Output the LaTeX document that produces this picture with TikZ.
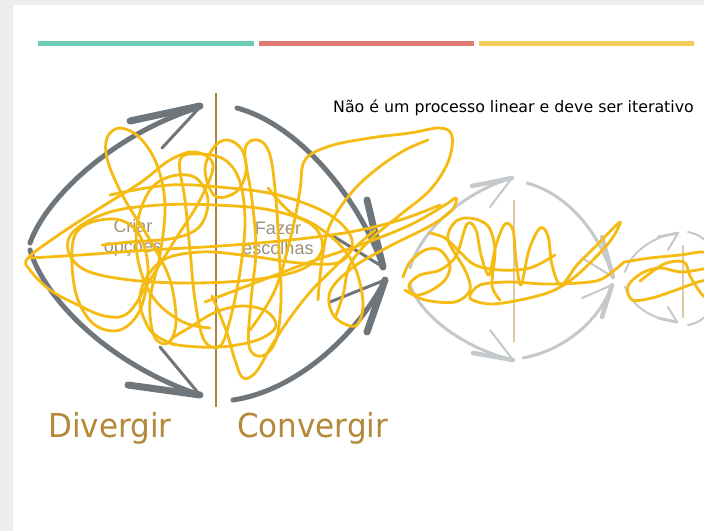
\documentclass[tikz,border=0pt]{standalone}
\usepackage{fontspec}
\setmainfont{DejaVu Sans}
\newfontfamily\dvfont[FakeStretch=0.94]{DejaVu Sans}
\newfontfamily\arialfont{Liberation Sans}
\definecolor{bggray}{HTML}{EEEEEE}
\definecolor{teal}{HTML}{6CCBB5}
\definecolor{salmon}{HTML}{DF7B6F}
\definecolor{mustard}{HTML}{F2CD5E}
\definecolor{darkarrow}{HTML}{6E767C}
\definecolor{lightarrow}{HTML}{C6C9CC}
\definecolor{brownline}{HTML}{A9853F}
\definecolor{tanline}{HTML}{DCCAA6}
\definecolor{goldtext}{HTML}{B38838}
\definecolor{fadetext}{HTML}{9E917A}
\definecolor{scribble}{HTML}{F5BB12}
\tikzset{
  darc/.style={draw=darkarrow, line width=5pt, line cap=round},
  dthick/.style={draw=darkarrow, line width=7pt, line cap=round},
  dthin/.style={draw=darkarrow, line width=3pt, line cap=round},
  larc/.style={draw=lightarrow, line width=3pt, line cap=round},
  lthick/.style={draw=lightarrow, line width=4.5pt, line cap=round},
  lthin/.style={draw=lightarrow, line width=2pt, line cap=round},
  sarc/.style={draw=lightarrow, line width=2pt, line cap=round},
  sthick/.style={draw=lightarrow, line width=2.8pt, line cap=round},
  yel/.style={draw=scribble, line width=2.8pt, line cap=round, line join=round},
  bar/.style={line width=5pt},
}
\begin{document}
\begin{tikzpicture}[x=1pt,y=-1pt]
\useasboundingbox (0,0) rectangle (704,531);
\fill[bggray] (0,0) rectangle (704,531);
\fill[white] (12,5) rectangle (704,531);
\draw[black!8, line width=1pt] (12,5) -- (12,531);
\clip (12,5) rectangle (704,531);

% top bars
\draw[bar, teal] (38,43) -- (254,43);
\draw[bar, salmon] (259,43) -- (474,43);
\draw[bar, mustard] (479,43) -- (694,43);

% title
\node[anchor=base west, inner sep=0pt, font=\fontsize{15.8}{17}\selectfont] (title) at (333,112.5) {Não é um processo linear e deve ser iterativo};

% ---------- diagram 1 ----------
\draw[brownline, line width=2.5pt] (216,93) -- (216,407);
\draw[darc] (30,243) .. controls (45,200) and (110,135) .. (200,107);
\draw[dthick] (130,121) -- (200,106);
\draw[dthin] (162,148) -- (200,107);
\draw[darc] (30,250) .. controls (45,300) and (110,365) .. (200,395);
\draw[dthick] (128,385) -- (200,395);
\draw[dthin] (160,347) -- (200,395);
\draw[darc] (237,108) .. controls (300,125) and (360,200) .. (383,267);
\draw[dthick] (367,200) -- (383,267);
\draw[dthin] (333,236) -- (383,267);
\draw[darc] (233,400) .. controls (300,390) and (360,330) .. (385,280);
\draw[dthick] (367,332) -- (385,280);
\draw[dthin] (330,302) -- (385,280);

\node[align=center, text=fadetext, inner sep=0pt, font=\arialfont\fontsize{18}{20}\selectfont] (criar) at (133,238) {Criar\\opções};
\node[align=center, text=fadetext, inner sep=0pt, font=\arialfont\fontsize{18}{20}\selectfont] (fazer) at (278,238) {Fazer\\escolhas};

\node[anchor=base west, inner sep=0pt, text=goldtext, font=\dvfont\fontsize{33}{36}\selectfont] (div) at (48,437) {Divergir};
\node[anchor=base west, inner sep=0pt, text=goldtext, font=\dvfont\fontsize{33}{36}\selectfont] (conv) at (237,437) {Convergir};

% ---------- diagram 2 ----------
\draw[tanline, line width=2.5pt] (514,200) -- (514,342);
\draw[larc] (410,268) .. controls (423,225) and (470,190) .. (512,178);
\draw[lthick] (472,186) -- (512,178);
\draw[lthin] (490,207) -- (512,178);
\draw[larc] (410,285) .. controls (423,320) and (470,350) .. (513,360);
\draw[lthick] (473,353) -- (513,360);
\draw[lthin] (490,330) -- (513,360);
\draw[larc] (527,183) .. controls (570,195) and (600,235) .. (613,277);
\draw[lthick] (602,237) -- (613,277);
\draw[lthin] (582,258) -- (613,277);
\draw[larc] (523,358) .. controls (565,350) and (600,320) .. (612,285);
\draw[lthick] (602,317) -- (612,285);
\draw[lthin] (582,298) -- (612,285);

% ---------- diagram 3 ----------
\draw[tanline, line width=2pt] (683,245) -- (683,318);
\draw[sarc] (625,272) .. controls (632,250) and (655,236) .. (678,233);
\draw[sthick] (658,237) -- (678,233);
\draw[sarc] (668,250) -- (678,233);
\draw[sarc] (625,287) .. controls (632,308) and (655,320) .. (677,322);
\draw[sthick] (658,318) -- (677,322);
\draw[sarc] (668,307) -- (677,322);
\draw[sarc] (688,232) .. controls (698,234) and (704,238) .. (708,244);
\draw[sarc] (688,325) .. controls (698,323) and (704,319) .. (708,313);

% ---------- scribbles ----------
\draw[yel] plot[smooth cycle, tension=0.6] coordinates {(28,258) (60,234) (100,208) (140,183) (170,160) (195,152) (213,165) (200,200) (175,240) (150,280) (128,313) (105,316) (78,305) (50,290) (30,270)};
\draw[yel] plot[smooth cycle, tension=0.6] coordinates {(120,128) (140,138) (157,165) (165,205) (160,255) (150,300) (154,336) (168,343) (176,322) (170,280) (150,240) (125,200) (108,162) (107,138)};
\draw[yel] plot[smooth cycle, tension=0.6] coordinates {(75,230) (110,212) (160,205) (215,205) (270,210) (312,225) (322,250) (300,270) (250,280) (190,283) (130,280) (85,270) (68,250)};
\draw[yel] plot[smooth cycle, tension=0.6] coordinates {(75,235) (92,222) (120,220) (140,236) (148,270) (140,310) (120,330) (95,325) (78,300) (72,265)};
\draw[yel] plot[smooth, tension=0.6] coordinates {(110,195) (170,185) (230,188) (282,196) (330,215) (352,240) (340,262) (300,263) (250,256) (200,252) (160,262) (140,295) (150,330) (175,345)};
\draw[yel] plot[smooth cycle, tension=0.6] coordinates {(180,160) (200,154) (225,160) (240,182) (245,222) (240,272) (230,320) (220,346) (204,340) (195,300) (190,250) (185,200)};
\draw[yel] plot[smooth cycle, tension=0.6] coordinates {(245,150) (258,140) (270,155) (276,200) (279,250) (281,300) (276,340) (262,356) (249,346) (251,300) (256,250) (252,200)};
\draw[yel] plot[smooth, tension=0.6] coordinates {(250,330) (275,290) (292,232) (300,190) (305,160) (330,146) (370,138) (410,133) (440,128) (452,136) (448,162) (430,190) (400,215) (370,240) (350,265) (343,295) (335,318)};
\draw[yel] plot[smooth, tension=0.6] coordinates {(205,302) (260,281) (310,262) (360,245) (410,225) (445,205) (456,198) (452,210) (430,226) (390,246) (352,268) (330,292) (334,316) (355,326) (363,305) (356,270) (340,245) (315,225) (290,212) (268,188)};
\draw[yel] plot[smooth, tension=0.6] coordinates {(212,296) (226,330) (235,360) (243,378) (256,372) (272,345) (292,315) (312,290) (332,270) (352,250) (375,230)};
\draw[yel] plot[smooth cycle, tension=0.6] coordinates {(170,342) (192,326) (216,312) (242,306) (266,311) (276,326) (260,339) (230,346) (200,347)};
\draw[yel] plot[smooth cycle, tension=0.6] coordinates {(205,170) (214,147) (228,140) (242,150) (246,172) (236,192) (215,196)};
\draw[yel] plot[smooth, tension=0.6] coordinates {(30,258) (80,255) (150,250) (220,246) (290,240) (350,232) (400,220) (440,205)};
\draw[yel] plot[smooth, tension=0.6] coordinates {(318,300) (322,260) (330,225) (352,192) (378,168) (405,150) (428,140)};
\draw[yel] plot[smooth, tension=0.6] coordinates {(102,245) (130,242) (175,238) (200,226) (208,200) (196,178) (172,176) (150,190) (137,225) (139,265) (155,300) (183,322) (210,328)};

% diagram 2 squiggle
\draw[yel] plot[smooth, tension=0.55] coordinates {(403,277) (410,262) (425,250) (440,250) (450,265) (445,280) (430,291) (415,295) (409,285) (420,275) (440,270) (456,256) (467,224) (476,230) (481,255) (489,275) (496,245) (505,224) (513,230) (516,260) (521,285) (529,250) (540,228) (548,236) (552,265) (561,285) (577,265) (597,245) (620,222) (611,240) (591,262) (571,280) (550,292) (520,300) (490,304) (470,298) (480,285) (510,282) (545,284) (578,283) (602,279) (624,262)};
\draw[yel] plot[smooth, tension=0.55] coordinates {(405,290) (425,300) (455,302) (470,290) (465,270) (448,240) (455,222) (470,218) (488,226) (495,250) (492,285) (500,300)};
\draw[yel] plot[smooth, tension=0.55] coordinates {(430,233) (445,238) (460,252) (475,265) (500,270) (530,268) (555,255)};

% diagram 3 squiggle
\draw[yel] plot[smooth, tension=0.55] coordinates {(624,262) (650,258) (680,255) (700,252) (708,253)};
\draw[yel] plot[smooth, tension=0.55] coordinates {(708,268) (682,272) (660,268) (642,273) (628,286) (632,300) (652,298) (676,290) (698,282) (708,280)};
\draw[yel] plot[smooth, tension=0.55] coordinates {(640,281) (664,264) (684,262) (690,276) (700,292) (708,300)};
\end{tikzpicture}
\end{document}
